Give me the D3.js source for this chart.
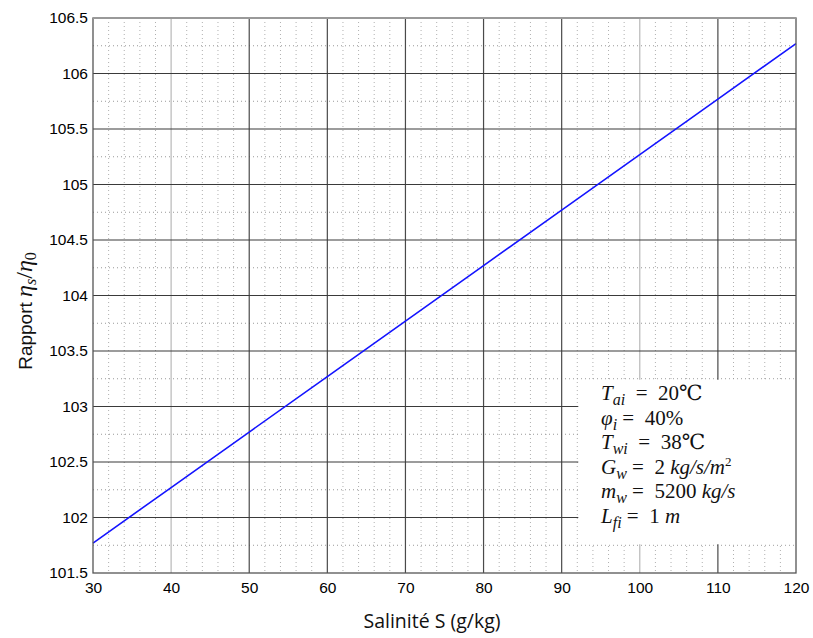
<!DOCTYPE html>
<html>
<head>
<meta charset="utf-8">
<script src="https://cdn.jsdelivr.net/npm/d3@7"></script>
<style>
  html, body { margin: 0; padding: 0; background: #fff; }
  svg { display: block; }
</style>
</head>
<body>
<svg id="chart" width="813" height="638"></svg>
<script>
// Salinity (g/kg) and viscosity ratio
const salinity = [30, 40, 50, 60, 70, 80, 90, 100, 110, 120];
const ratio = [101.77, 102.27, 102.77, 103.27, 103.77, 104.27, 104.77, 105.27, 105.77, 106.27];

const xTicks = [30, 40, 50, 60, 70, 80, 90, 100, 110, 120];
const yTicks = [101.5, 102, 102.5, 103, 103.5, 104, 104.5, 105, 105.5, 106, 106.5];
const xMinor = d3.range(32, 120, 2);
const yMinor = d3.range(101.75, 106.5, 0.5);

// operating conditions: [text, kind] with kind i=italic, s=subscript, p=superscript, n=normal
const params = [
  [["T", "i"], ["ai", "s"], ["  =  20℃", "n"]],
  [["φ", "i"], ["i", "s"], [" =  40%", "n"]],
  [["T", "i"], ["wi", "s"], ["  =  38℃", "n"]],
  [["G", "i"], ["w", "s"], [" =  2 ", "n"], ["kg/s/m", "i"], ["2", "p"]],
  [["m", "i"], ["w", "s"], [" =  5200 ", "n"], ["kg/s", "i"]],
  [["L", "i"], ["fi", "s"], [" =  1 ", "n"], ["m", "i"]]
];

const svg = d3.select("#chart");
const L = 93, R = 796, T = 18, B = 573;

const x = d3.scaleLinear().domain([30, 120]).range([L, R]);
const y = d3.scaleLinear().domain([101.5, 106.5]).range([B, T]);

// minor dotted grid
const g = svg.append("g");
g.selectAll(".vminor").data(xMinor.filter(v => v % 10 !== 0)).join("line")
  .attr("x1", d => x(d)).attr("x2", d => x(d)).attr("y1", T).attr("y2", B)
  .attr("stroke", "#b0b0b0").attr("stroke-width", 1).attr("stroke-dasharray", "1,3");
g.selectAll(".hminor").data(yMinor).join("line")
  .attr("x1", L).attr("x2", R).attr("y1", d => y(d)).attr("y2", d => y(d))
  .attr("stroke", "#999").attr("stroke-width", 1).attr("stroke-dasharray", "1,3");

// major solid grid
g.selectAll(".vmajor").data(xTicks.slice(1, -1)).join("line")
  .attr("x1", d => x(d)).attr("x2", d => x(d)).attr("y1", T).attr("y2", B)
  .attr("stroke", d => (d === 40 || d === 100) ? "#b8b8b8" : "#4a4a4a").attr("stroke-width", 1.2);
g.selectAll(".hmajor").data(yTicks.slice(1, -1)).join("line")
  .attr("x1", L).attr("x2", R).attr("y1", d => y(d)).attr("y2", d => y(d))
  .attr("stroke", "#3a3a3a").attr("stroke-width", 1.2);

// curve
svg.append("path")
  .datum(salinity.map((s, i) => [s, ratio[i]]))
  .attr("fill", "none")
  .attr("stroke", "#1414ff")
  .attr("stroke-width", 1.6)
  .attr("d", d3.line().x(d => x(d[0])).y(d => y(d[1])));

// parameter box
svg.append("rect")
  .attr("x", x(92) + 1).attr("y", y(103.25) + 1)
  .attr("width", x(120) - x(92) - 1).attr("height", y(101.75) - y(103.25) - 2)
  .attr("fill", "#fff");

const tx = svg.append("g").attr("font-family", "'Liberation Serif', 'DejaVu Serif', serif")
  .attr("font-size", 21).attr("fill", "#111").attr("xml:space", "preserve");
params.forEach((parts, i) => {
  const t = tx.append("text").attr("x", 601).attr("y", 400 + i * 24.6).style("white-space", "pre");
  let prevKind = null;
  parts.forEach(([s, k]) => {
    const sp = t.append("tspan").text(s);
    if (k === "i") sp.attr("font-style", "italic");
    if (k === "s") sp.attr("font-style", "italic").attr("font-size", 16).attr("dy", 5);
    if (k === "p") sp.attr("font-size", 13).attr("dy", -8);
    if ((k === "n" || k === "i") && prevKind === "s") sp.attr("dy", -5);
    if ((k === "n" || k === "i") && prevKind === "p") sp.attr("dy", 8);
    prevKind = k;
  });
});

// frame
svg.append("rect").attr("x", L).attr("y", T).attr("width", R - L).attr("height", B - T)
  .attr("fill", "none").attr("stroke", "#555").attr("stroke-width", 1.3);
svg.append("line").attr("x1", L).attr("x2", R).attr("y1", T).attr("y2", T)
  .attr("stroke", "#999").attr("stroke-width", 2);

// axes
const xAxis = svg.append("g").attr("transform", `translate(0,${B})`)
  .call(d3.axisBottom(x).tickValues(xTicks).tickSize(0).tickPadding(9).tickFormat(d3.format("d")));
const yAxis = svg.append("g").attr("transform", `translate(${L},0)`)
  .call(d3.axisLeft(y).tickValues(yTicks).tickSize(0).tickPadding(5).tickFormat(d => d3.format("")(d)));
[xAxis, yAxis].forEach(a => {
  a.select(".domain").remove();
  a.selectAll("text").attr("font-family", "'Liberation Sans', Arial, sans-serif").attr("font-size", 15.5).attr("fill", "#000");
});

// axis titles
svg.append("text").attr("x", 432).attr("y", 628).attr("text-anchor", "middle")
  .attr("font-family", "'Open Sans', 'Noto Sans', sans-serif").attr("font-size", 19.5).attr("fill", "#111")
  .text("Salinité S (g/kg)");

const yl = svg.append("text").attr("transform", "translate(32,311) rotate(-90)").attr("text-anchor", "middle")
  .attr("font-family", "'Liberation Sans', Arial, sans-serif").attr("font-size", 19).attr("fill", "#111");
yl.append("tspan").text("Rapport ");
yl.append("tspan").attr("font-family", "'Liberation Serif', serif").attr("font-style", "italic").attr("font-size", 24).text("η");
yl.append("tspan").attr("font-family", "'Liberation Serif', serif").attr("font-style", "italic").attr("font-size", 16).attr("dy", 4).text("s");
yl.append("tspan").attr("font-family", "'Liberation Serif', serif").attr("font-size", 24).attr("dy", -4).text("/");
yl.append("tspan").attr("font-family", "'Liberation Serif', serif").attr("font-style", "italic").attr("font-size", 24).text("η");
yl.append("tspan").attr("font-family", "'Liberation Serif', serif").attr("font-size", 16).attr("dy", 4).text("0");
</script>
</body>
</html>
